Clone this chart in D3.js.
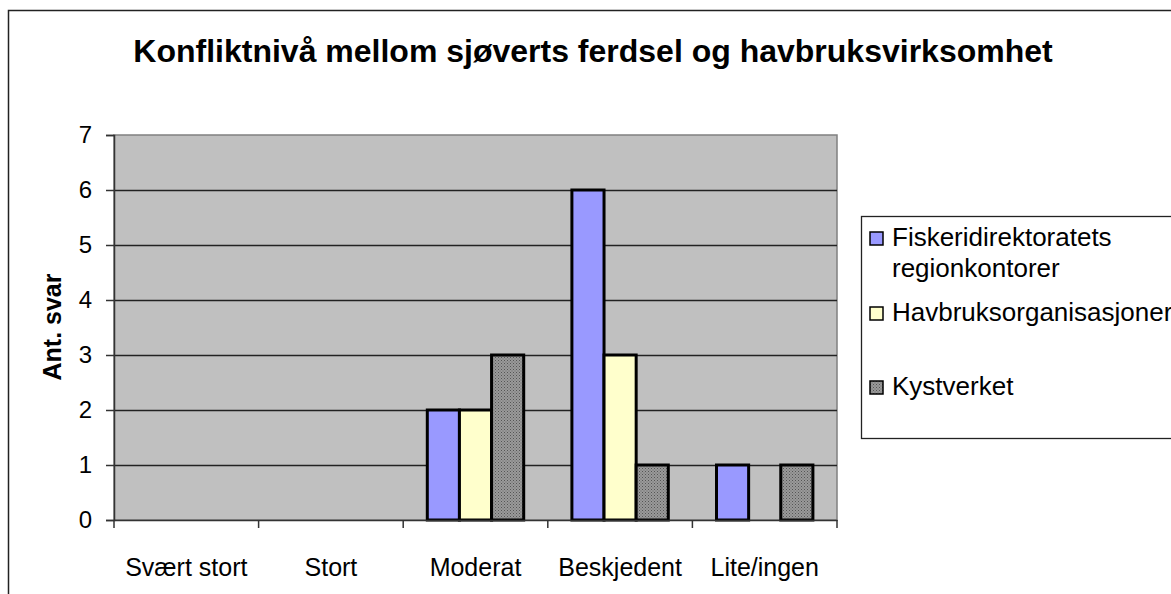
<!DOCTYPE html>
<html lang="no">
<head>
<meta charset="utf-8">
<title>Konfliktnivå</title>
<script src="https://d3js.org/d3.v7.min.js"></script>
<style>
  body { margin: 0; background: #fff; }
  svg text { font-family: "Liberation Sans", Arial, sans-serif; fill: #000; }
</style>
</head>
<body>
<div class="chart"></div>
<script>
// data
const categories = ['Svært stort', 'Stort', 'Moderat', 'Beskjedent', 'Lite/ingen'];
const seriesNames = ['Fiskeridirektoratets regionkontorer', 'Havbruksorganisasjoner', 'Kystverket'];
const fiskeri = [0, 0, 2, 6, 1];
const havbruk = [0, 0, 2, 3, 0];
const kystverket = [0, 0, 3, 1, 1];
const yTicks = [0, 1, 2, 3, 4, 5, 6, 7];

const seriesValues = [fiskeri, havbruk, kystverket];
const colors = ['#9999ff', '#ffffcc', 'url(#dots)'];

const width = 1171, height = 594;
const plot = {left: 114, right: 837, top: 135, bottom: 520};

const svg = d3.select('.chart').append('svg')
  .attr('width', width)
  .attr('height', height);

// dotted grey fill like the excel pattern
const pat = svg.append('defs').append('pattern')
  .attr('id', 'dots')
  .attr('width', 3).attr('height', 3)
  .attr('patternUnits', 'userSpaceOnUse');
pat.append('rect').attr('width', 3).attr('height', 3).attr('fill', '#9a9a9a');
pat.append('rect').attr('width', 1).attr('height', 1).attr('fill', '#555');
pat.append('rect').attr('x', 1.5).attr('y', 1.5).attr('width', 1).attr('height', 1).attr('fill', '#666');

// chart border
svg.append('rect')
  .attr('x', 8.5).attr('y', 10.5)
  .attr('width', 1200).attr('height', 700)
  .attr('fill', 'none')
  .attr('stroke', '#222')
  .attr('stroke-width', 1.5);

svg.append('text')
  .attr('x', 593).attr('y', 62)
  .attr('text-anchor', 'middle')
  .style('font-size', '32px')
  .style('font-weight', 'bold')
  .text('Konfliktnivå mellom sjøverts ferdsel og havbruksvirksomhet');

const x0 = d3.scaleBand()
  .domain(categories)
  .range([plot.left, plot.right]);

const x1 = d3.scaleBand()
  .domain(d3.range(seriesNames.length))
  .range([0, x0.bandwidth()])
  .paddingInner(0)
  .paddingOuter(0.75);

const y = d3.scaleLinear()
  .domain([0, 7])
  .range([plot.bottom, plot.top]);

// plot area
svg.append('rect')
  .attr('x', plot.left).attr('y', plot.top)
  .attr('width', plot.right - plot.left)
  .attr('height', plot.bottom - plot.top)
  .attr('fill', '#c0c0c0')
  .attr('stroke', '#808080')
  .attr('stroke-width', 1.5);

// gridlines
svg.append('g')
  .selectAll('line')
  .data(yTicks.filter(d => d > 0 && d < 7))
  .enter()
  .append('line')
  .attr('x1', plot.left).attr('x2', plot.right)
  .attr('y1', d => Math.round(y(d)) + 0.5)
  .attr('y2', d => Math.round(y(d)) + 0.5)
  .attr('stroke', '#222')
  .attr('stroke-width', 1.3);

// bars
const groups = svg.append('g')
  .selectAll('g')
  .data(seriesValues)
  .enter()
  .append('g')
  .attr('fill', (d, i) => colors[i]);

groups.selectAll('rect')
  .data((d, i) => d.map((v, j) => ({v: v, cat: categories[j], s: i})).filter(o => o.v > 0))
  .enter()
  .append('rect')
  .attr('x', d => x0(d.cat) + x1(d.s))
  .attr('y', d => y(d.v))
  .attr('width', x1.bandwidth())
  .attr('height', d => y(0) - y(d.v))
  .attr('stroke', '#000')
  .attr('stroke-width', 3);

// y axis
const yAxis = svg.append('g')
  .attr('transform', `translate(${plot.left},0)`)
  .call(d3.axisLeft(y).tickValues(yTicks).tickSize(8).tickPadding(14).tickFormat(d3.format('d')));
yAxis.select('.domain').attr('stroke', '#333').attr('stroke-width', 1.5);
yAxis.selectAll('.tick line').attr('stroke', '#333').attr('stroke-width', 1.5);
yAxis.selectAll('.tick text')
  .style('font-size', '24px')
  .style('font-family', '"Liberation Sans", Arial, sans-serif')
  .attr('fill', '#000');

// x axis, ticks on category edges
const xAxis = svg.append('g')
  .attr('transform', `translate(0,${plot.bottom})`)
  .call(d3.axisBottom(x0).tickSize(0).tickPadding(38));
xAxis.select('.domain').attr('stroke', '#333').attr('stroke-width', 1.5);
xAxis.selectAll('.tick text')
  .style('font-size', '25px')
  .style('font-family', '"Liberation Sans", Arial, sans-serif')
  .attr('fill', '#000');
xAxis.selectAll('.edge')
  .data(categories.concat(['end']))
  .enter()
  .append('line')
  .attr('class', 'edge')
  .attr('x1', (d, i) => i < categories.length ? x0(d) : plot.right)
  .attr('x2', (d, i) => i < categories.length ? x0(d) : plot.right)
  .attr('y1', 0).attr('y2', 8)
  .attr('stroke', '#333')
  .attr('stroke-width', 1.5);

// y title
svg.append('text')
  .attr('transform', 'translate(61,327) rotate(-90)')
  .attr('text-anchor', 'middle')
  .style('font-size', '25px')
  .style('font-weight', 'bold')
  .text('Ant. svar');

// legend
const legend = svg.append('g');
legend.append('rect')
  .attr('x', 861.5).attr('y', 216.5)
  .attr('width', 400).attr('height', 222)
  .attr('fill', '#fff')
  .attr('stroke', '#222')
  .attr('stroke-width', 1.3);

const legendRows = [
  {lines: ['Fiskeridirektoratets', 'regionkontorer'], base: 246},
  {lines: ['Havbruksorganisasjoner'], base: 321},
  {lines: ['Kystverket'], base: 395}
];

const items = legend.selectAll('.item')
  .data(legendRows)
  .enter()
  .append('g')
  .attr('class', 'item');

items.append('rect')
  .attr('x', 870).attr('y', d => d.base - 14)
  .attr('width', 13).attr('height', 13)
  .attr('fill', (d, i) => colors[i])
  .attr('stroke', '#000')
  .attr('stroke-width', 1.5);

items.each(function(d) {
  const t = d3.select(this).append('text')
    .attr('x', 892).attr('y', d.base)
    .style('font-size', '26px');
  d.lines.forEach((l, k) => {
    t.append('tspan').attr('x', 892).attr('dy', k === 0 ? 0 : 31).text(l);
  });
});
</script>
</body>
</html>
